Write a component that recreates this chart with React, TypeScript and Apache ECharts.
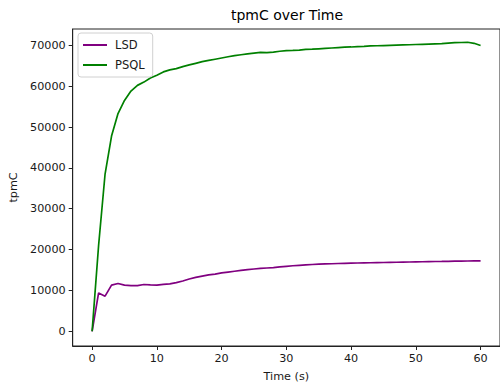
import React, { useEffect, useRef } from "react";
import * as echarts from "echarts";

const timeSeconds: number[] = Array.from({ length: 61 }, (_, i) => i);

const lsdValues: number[] = [
  0, 9400, 8600, 11300, 11700, 11300, 11200, 11200, 11450, 11350,
  11300, 11500, 11600, 11900, 12300, 12800, 13200, 13500, 13800, 14000,
  14300, 14500, 14700, 14900, 15100, 15250, 15400, 15500, 15600, 15750,
  15900, 16050, 16150, 16250, 16350, 16420, 16480, 16540, 16590, 16640,
  16680, 16720, 16750, 16780, 16810, 16840, 16870, 16900, 16930, 16960,
  16990, 17020, 17050, 17080, 17100, 17130, 17160, 17190, 17210, 17240,
  17260,
];

const psqlValues: number[] = [
  0, 21000, 38500, 47800, 53300, 56500, 58800, 60200, 61000, 62000,
  62700, 63500, 64000, 64300, 64800, 65200, 65600, 66000, 66300, 66600,
  66900, 67200, 67500, 67700, 67900, 68100, 68300, 68200, 68350, 68550,
  68700, 68750, 68850, 69000, 69050, 69150, 69250, 69350, 69450, 69550,
  69600, 69700, 69750, 69850, 69900, 69950, 70000, 70050, 70100, 70150,
  70200, 70250, 70300, 70350, 70400, 70550, 70650, 70700, 70750, 70500,
  69950,
];

const xTicks: number[] = [0, 10, 20, 30, 40, 50, 60];
const yTicks: number[] = [0, 10000, 20000, 30000, 40000, 50000, 60000, 70000];

const FONT = "DejaVu Sans";

export default function App() {
  const ref = useRef<HTMLDivElement>(null);
  useEffect(() => {
    if (!ref.current) return;
    const chart = echarts.init(ref.current, null, { renderer: "svg" });
    const axisText = { color: "#1a1a1a", fontFamily: FONT, fontSize: 11.2 };
    chart.setOption({
      animation: false,
      backgroundColor: "#fff",
      graphic: [
        {
          type: "text",
          x: 287,
          y: 15,
          style: {
            text: "tpmC over Time",
            fontFamily: FONT,
            fontSize: 14,
            fill: "#000",
            textAlign: "center",
            textVerticalAlign: "middle",
          },
        },
      ],
      grid: {
        left: 72.7,
        top: 29,
        width: 431,
        height: 320.3,
        show: true,
        borderColor: "#222",
        borderWidth: 1,
        backgroundColor: "transparent",
      },
      legend: {
        orient: "vertical",
        left: 78,
        top: 33,
        data: [
          { name: "LSD", icon: "rect" },
          { name: "PSQL", icon: "rect" },
        ],
        itemWidth: 24,
        itemHeight: 2,
        itemGap: 8,
        padding: [6, 8, 6, 5],
        borderColor: "#d0d0d0",
        borderWidth: 1,
        borderRadius: 3,
        backgroundColor: "rgba(255,255,255,0.8)",
        textStyle: { fontFamily: FONT, fontSize: 11.5, color: "#1a1a1a", padding: [0, 0, 0, 3] },
      },
      xAxis: {
        type: "value",
        min: -3,
        max: 63,
        name: "Time (s)",
        nameLocation: "middle",
        nameGap: 25,
        nameTextStyle: axisText,
        splitLine: { show: false },
        axisLine: { show: true, onZero: false, lineStyle: { color: "#222", width: 1 } },
        axisTick: { show: true, length: 4, lineStyle: { color: "#222" }, customValues: xTicks },
        axisLabel: { ...axisText, margin: 7, customValues: xTicks, formatter: (v: number) => String(v) },
      },
      yAxis: {
        type: "value",
        min: -3600,
        max: 74000,
        name: "tpmC",
        nameLocation: "middle",
        nameGap: 52,
        nameTextStyle: axisText,
        splitLine: { show: false },
        axisLine: { show: true, onZero: false, lineStyle: { color: "#222", width: 1 } },
        axisTick: { show: true, length: 4, lineStyle: { color: "#222" }, customValues: yTicks },
        axisLabel: { ...axisText, margin: 7, customValues: yTicks, formatter: (v: number) => String(v) },
      },
      series: [
        {
          name: "LSD",
          type: "line",
          data: timeSeconds.map((t, i) => [t, lsdValues[i]]),
          showSymbol: false,
          symbol: "none",
          lineStyle: { color: "#800080", width: 1.7 },
          itemStyle: { color: "#800080" },
        },
        {
          name: "PSQL",
          type: "line",
          data: timeSeconds.map((t, i) => [t, psqlValues[i]]),
          showSymbol: false,
          symbol: "none",
          lineStyle: { color: "#008000", width: 1.7 },
          itemStyle: { color: "#008000" },
        },
      ],
    });
    return () => chart.dispose();
  }, []);
  return <div ref={ref} style={{ width: 500, height: 387, position: "absolute", left: 0, top: 0 }} />;
}
